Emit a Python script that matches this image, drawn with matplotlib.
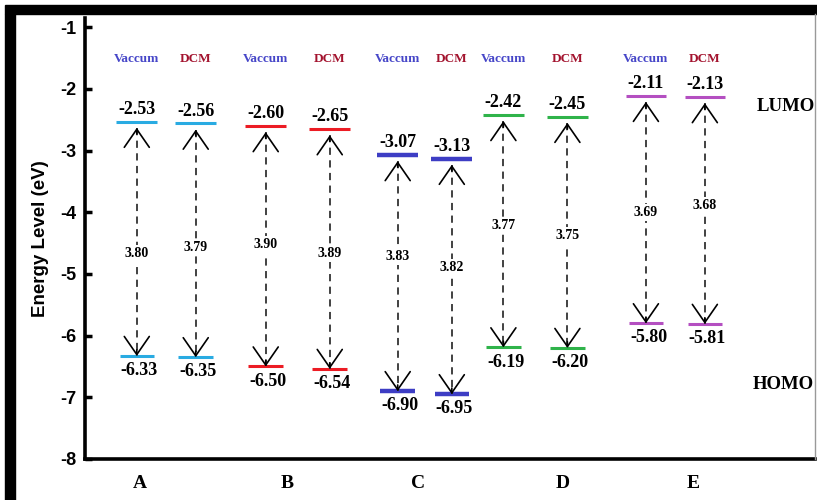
import matplotlib.pyplot as plt
from matplotlib.patches import Rectangle
from matplotlib.lines import Line2D

plt.rcParams["axes.unicode_minus"] = False

molecules = ["A", "B", "C", "D", "E"]
media = ["Vaccum", "DCM"]
lumo_vac = [-2.53, -2.60, -3.07, -2.42, -2.11]
lumo_dcm = [-2.56, -2.65, -3.13, -2.45, -2.13]
homo_vac = [-6.33, -6.50, -6.90, -6.19, -5.80]
homo_dcm = [-6.35, -6.54, -6.95, -6.20, -5.81]
gap_vac = [3.80, 3.90, 3.83, 3.77, 3.69]
gap_dcm = [3.79, 3.89, 3.82, 3.75, 3.68]

# layout / style
group_x = [0.0, 1.035, 2.035, 2.906, 4.008]
group_half = [0.232, 0.252, 0.213, 0.252, 0.232]
name_x = [-0.21, 0.95, 1.98, 3.12, 4.15]
level_colors = ["#29abe2", "#ec1c24", "#3d3dc4", "#2fb34a", "#b44fc1"]
level_widths = [2.2, 2.2, 3.2, 2.2, 2.2]
gap_y_vac = [-4.67, -4.52, -4.71, -4.22, -4.00]
gap_y_dcm = [-4.57, -4.67, -4.89, -4.38, -3.89]
medium_colors = {"Vaccum": "#4646c8", "DCM": "#a3132e"}
half_len = 0.16
serif = "Liberation Serif"
sans = "Liberation Sans"

fig = plt.figure(figsize=(8.17, 5.0), dpi=100)
ax = fig.add_axes([0.104, 0.082, 0.894, 0.882])

for i, name in enumerate(molecules):
    cx, off = group_x[i], group_half[i]
    cols = [(cx - off, lumo_vac[i], homo_vac[i], gap_vac[i], gap_y_vac[i], "Vaccum"),
            (cx + off, lumo_dcm[i], homo_dcm[i], gap_dcm[i], gap_y_dcm[i], "DCM")]
    for x, lumo, homo, gap, gy, med in cols:
        ax.plot([x - half_len, x + half_len], [lumo, lumo],
                color=level_colors[i], lw=level_widths[i], solid_capstyle="butt")
        ax.plot([x - half_len * 0.85, x + half_len * 0.85], [homo, homo],
                color=level_colors[i], lw=level_widths[i], solid_capstyle="butt")
        ax.plot([x, x], [lumo - 0.1, homo], color="#333333", lw=1.3,
                ls=(0, (4, 3)))
        ax.annotate("", xy=(x, lumo - 0.1), xytext=(x, lumo - 0.2),
                    arrowprops=dict(arrowstyle="->,head_length=1.3,head_width=0.9",
                                    lw=1.2, color="black", shrinkA=0, shrinkB=0))
        ax.annotate("", xy=(x, homo), xytext=(x, homo + 0.1),
                    arrowprops=dict(arrowstyle="->,head_length=1.3,head_width=0.9",
                                    lw=1.2, color="black", shrinkA=0, shrinkB=0))
        ax.text(x, gy, f"{gap:.2f}", ha="center", va="center", fontsize=10,
                fontweight="bold", family=serif,
                bbox=dict(facecolor="white", edgecolor="none", pad=1.5))
        ax.text(x, lumo + 0.06, f"{lumo:.2f}", ha="center", va="bottom",
                fontsize=13, fontweight="bold", family=serif)
        ax.text(x + 0.02, homo - 0.1, f"{homo:.2f}", ha="center", va="top",
                fontsize=13, fontweight="bold", family=serif)
        ax.text(x, -1.52, med, ha="center", va="center", fontsize=9.5,
                fontweight="bold", family=serif, color=medium_colors[med])
    ax.text(name_x[i], -8.4, name, ha="center", va="center", fontsize=14,
            fontweight="bold", family=serif)

ax.text(4.88, -2.28, "LUMO", ha="center", va="center", fontsize=13.5,
        fontweight="bold", family=serif)
ax.text(4.86, -6.8, "HOMO", ha="center", va="center", fontsize=13.5,
        fontweight="bold", family=serif)

ax.set_xlim(-0.64, 5.11)
ax.set_ylim(-8, -0.85)
ax.set_yticks(range(-8, 0))
ax.set_xticks([])
for lab in ax.get_yticklabels():
    lab.set_fontweight("bold")
    lab.set_family(sans)
    lab.set_fontsize(13)
ax.tick_params(axis="y", direction="in", length=5, width=2.5, pad=6)
ax.spines["top"].set_visible(False)
ax.spines["right"].set_visible(False)
ax.spines["left"].set_linewidth(2.6)
ax.spines["bottom"].set_linewidth(2.6)
ax.set_ylabel("Energy Level (eV)", fontsize=13.5, fontweight="bold",
              family=sans, labelpad=8)

# picture frame
fig.patches.append(Rectangle((5 / 817, 0), 10 / 817, 486 / 500,
                             transform=fig.transFigure, color="black"))
fig.patches.append(Rectangle((5 / 817, 486 / 500), 812 / 817, 9 / 500,
                             transform=fig.transFigure, color="black"))
fig.lines.append(Line2D([814.5 / 817, 814.5 / 817], [41 / 500, 486 / 500],
                        transform=fig.transFigure, color="#999999", lw=1))

fig.savefig("out.png", dpi=100)
